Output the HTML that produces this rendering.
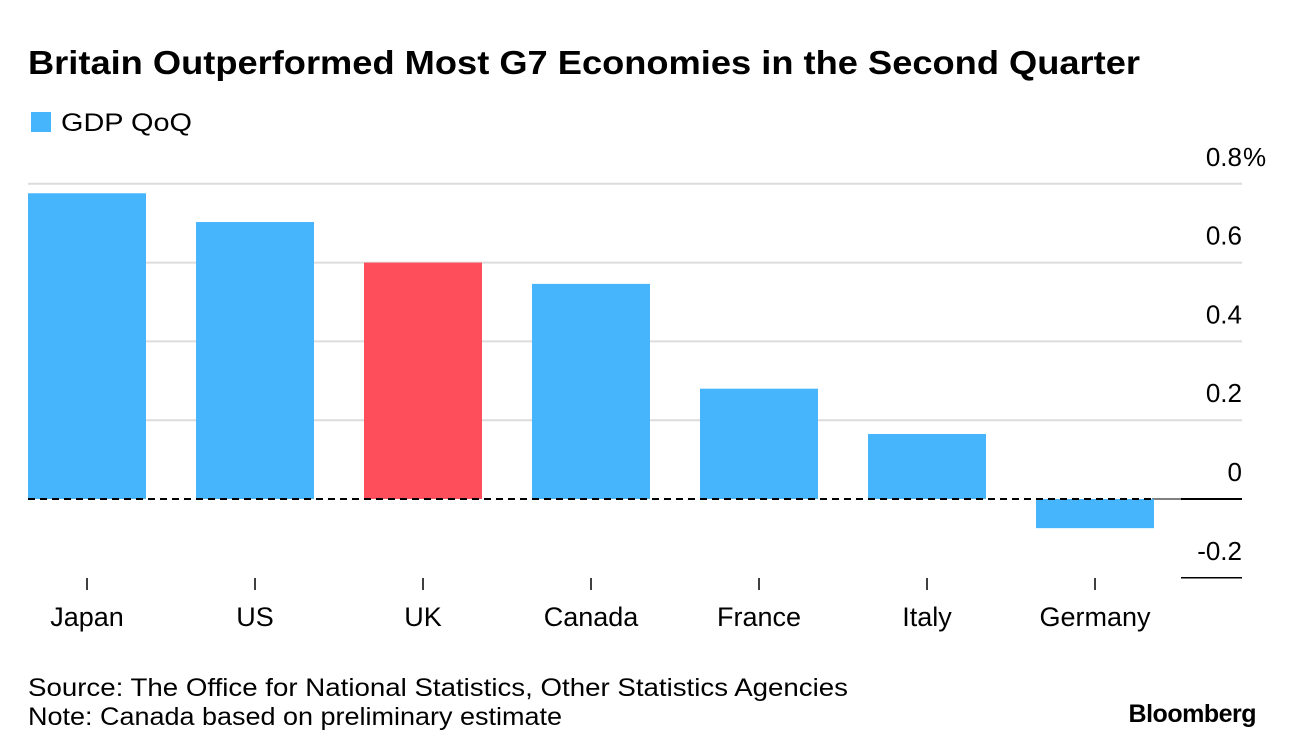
<!DOCTYPE html>
<html><head><meta charset="utf-8"><style>
body{margin:0;background:#fff;font-family:"Liberation Sans",sans-serif;}
svg{display:block}
</style></head><body>
<svg width="1296" height="756" xmlns="http://www.w3.org/2000/svg">
<text x="28" y="74" font-size="33" font-weight="bold" fill="#000" textLength="1112" lengthAdjust="spacingAndGlyphs">Britain Outperformed Most G7 Economies in the Second Quarter</text>
<rect x="31" y="112" width="20" height="20" fill="#47b5fc"/>
<text x="61" y="131" font-size="25" fill="#000" textLength="131" lengthAdjust="spacingAndGlyphs">GDP QoQ</text>
<g id="grid"></g><g id="bars"></g><g id="xaxis"></g>
<text x="28" y="696" font-size="25" fill="#000" textLength="820" lengthAdjust="spacingAndGlyphs">Source: The Office for National Statistics, Other Statistics Agencies</text>
<text x="28" y="725" font-size="25" fill="#000" textLength="534" lengthAdjust="spacingAndGlyphs">Note: Canada based on preliminary estimate</text>
<text x="1256" y="722" font-size="25" font-weight="bold" text-anchor="end" fill="#000" letter-spacing="-0.5">Bloomberg</text>
</svg>
<script>
const categories=["Japan","US","UK","Canada","France","Italy","Germany"];
const values=[0.776,0.703,0.60,0.546,0.28,0.165,-0.074];
const highlight=["UK"];
const ticks=[0.8,0.6,0.4,0.2,0,-0.2];
const tickLabels=["0.8","0.6","0.4","0.2","0","-0.2"];
const NS="http://www.w3.org/2000/svg";
function y(v){return 499-v*394;}
function x(i){return 28+i*168;}
const BW=118;
function mk(t,a,p){const e=document.createElementNS(NS,t);for(const k in a)e.setAttribute(k,a[k]);p.appendChild(e);return e;}
const grid=document.getElementById('grid'),bars=document.getElementById('bars'),xa=document.getElementById('xaxis');
ticks.forEach((t,i)=>{
  let ln;
  if(t===0){ln=mk('line',{x1:1152,x2:1181,y1:y(t),y2:y(t),stroke:'#000','stroke-width':1},grid);
    const l2=mk('line',{x1:1181,x2:1242,y1:y(t),y2:y(t),stroke:'#000','stroke-width':2},grid);
    
    }
  else if(t===ticks[ticks.length-1]){ln=mk('line',{x1:1181,x2:1242,y1:y(t),y2:y(t),stroke:'#000','stroke-width':1.5},grid);}
  else{ln=mk('line',{x1:28,x2:1242,y1:y(t),y2:y(t),stroke:'#dcdcdc','stroke-width':2},grid);}
  
  
  const tx=mk('text',{x:1242,y:y(t)-18,'font-size':26,'text-anchor':'end',fill:'#000'},grid);
  tx.textContent=tickLabels[i];
  
  
  if(i===0){const p=mk('text',{x:1243,y:y(t)-18,'font-size':26,fill:'#000'},grid);p.textContent='%';
    
    }
});
categories.forEach((c,i)=>{
  const v=values[i];
  const r=mk('rect',{x:x(i),y:Math.min(y(v),y(0)),width:BW,height:Math.abs(y(v)-y(0)),fill:highlight.includes(c)?'#ff4e5b':'#47b5fc'},bars);
  
  
  const tk=mk('line',{x1:x(i)+BW/2,x2:x(i)+BW/2,y1:578,y2:590,stroke:'#000','stroke-width':1.5},xa);
  
  
  const t=mk('text',{x:x(i)+BW/2,y:626,'font-size':27,'text-anchor':'middle',fill:'#000'},xa);
  t.textContent=c;
  
  
});
const dz=mk('line',{x1:28,x2:1152,y1:y(0),y2:y(0),stroke:'#000','stroke-width':2,'stroke-dasharray':'7,5'},bars);


</script>
</body></html>
